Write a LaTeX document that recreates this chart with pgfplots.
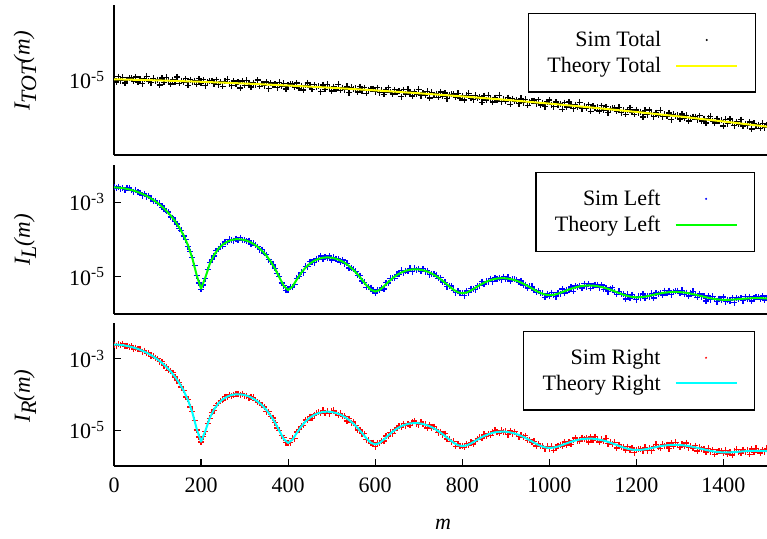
\documentclass[border=0pt]{standalone}
\usepackage{fontspec}
\setmainfont{Liberation Serif}
\usepackage{pgfplots}
\usepackage{pgfplotstable}
\pgfplotsset{compat=1.18}

\definecolor{lineyellow}{RGB}{255,255,0}
\definecolor{linegreen}{RGB}{0,255,0}
\definecolor{linecyan}{RGB}{0,255,255}
\definecolor{ptblue}{RGB}{0,0,255}
\definecolor{ptred}{RGB}{255,0,0}

\newcommand{\fs}{\fontsize{22bp}{26bp}\selectfont}
\newcommand{\ls}{\fontsize{23bp}{26bp}\selectfont}
\newcommand{\sub}[1]{\raisebox{-0.28em}{\fontsize{22bp}{22bp}\selectfont #1}}

% simulated points, one row every 5 m: total, left, right
\pgfplotstableread{
m T L R
0 10.50e-6 2605e-6 2505e-6
5 9.41e-6 2415e-6 2316e-6
10 11.13e-6 2642e-6 2543e-6
15 9.78e-6 2313e-6 2386e-6
20 10.82e-6 2419e-6 2635e-6
25 9.09e-6 2155e-6 2225e-6
30 10.13e-6 2351e-6 2306e-6
35 10.50e-6 2412e-6 2147e-6
40 10.61e-6 2097e-6 2268e-6
45 9.69e-6 1934e-6 1872e-6
50 10.97e-6 2069e-6 2049e-6
55 9.39e-6 1856e-6 1862e-6
60 10.16e-6 1816e-6 1830e-6
65 8.97e-6 1508e-6 1575e-6
70 10.38e-6 1672e-6 1687e-6
75 11.14e-6 1410e-6 1425e-6
80 9.70e-6 1477e-6 1436e-6
85 9.17e-6 1259e-6 1158e-6
90 10.56e-6 1078e-6 1159e-6
95 9.78e-6 1085e-6 1070e-6
100 10.15e-6 938e-6 995e-6
105 8.59e-6 943e-6 831e-6
110 10.62e-6 729e-6 821e-6
115 9.32e-6 683e-6 642e-6
120 10.83e-6 577e-6 601e-6
125 9.79e-6 545e-6 473e-6
130 8.88e-6 403e-6 456e-6
135 10.13e-6 388e-6 407e-6
140 9.49e-6 311e-6 308e-6
145 10.98e-6 262e-6 242e-6
150 9.07e-6 197e-6 220e-6
155 9.81e-6 175e-6 162e-6
160 9.28e-6 124.5e-6 131e-6
165 10.39e-6 99.8e-6 85.5e-6
170 8.49e-6 64.1e-6 73.9e-6
175 10.10e-6 47e-6 45.1e-6
180 9.46e-6 32.3e-6 33.9e-6
185 9.81e-6 19.8e-6 19e-6
190 8.80e-6 10.6e-6 10.1e-6
195 10.38e-6 6.74e-6 6.49e-6
200 9.10e-6 4.56e-6 4.70e-6
205 10.06e-6 6.06e-6 6.6e-6
210 8.44e-6 8.92e-6 9.22e-6
215 9.40e-6 15.5e-6 15.2e-6
220 9.74e-6 24.1e-6 21.4e-6
225 9.84e-6 29.4e-6 31.8e-6
230 8.97e-6 36.4e-6 35.2e-6
235 10.15e-6 49.9e-6 49.4e-6
240 8.68e-6 56.1e-6 57.0e-6
245 9.37e-6 66.3e-6 65.8e-6
250 8.27e-6 66.2e-6 69.1e-6
255 9.56e-6 85.9e-6 86.7e-6
260 10.25e-6 83.8e-6 84.7e-6
265 8.92e-6 100.4e-6 97.7e-6
270 8.42e-6 97.0e-6 89.2e-6
275 9.70e-6 93e-6 100e-6
280 8.96e-6 104.8e-6 103.5e-6
285 9.30e-6 100e-6 106e-6
290 7.86e-6 111.7e-6 98.5e-6
295 9.71e-6 94.5e-6 106.5e-6
300 8.51e-6 97.7e-6 91.9e-6
305 9.88e-6 89.7e-6 93.4e-6
310 8.93e-6 93.4e-6 81.1e-6
315 8.09e-6 75.1e-6 85.0e-6
320 9.22e-6 79.8e-6 83.6e-6
325 8.62e-6 69.3e-6 68.6e-6
330 9.97e-6 64.9e-6 59.8e-6
335 8.22e-6 53.1e-6 59.3e-6
340 8.88e-6 53.6e-6 49.6e-6
345 8.40e-6 42.2e-6 44.4e-6
350 9.39e-6 39.0e-6 33.4e-6
355 7.67e-6 28.5e-6 32.9e-6
360 9.11e-6 25.6e-6 24.6e-6
365 8.52e-6 21.1e-6 22.1e-6
370 8.83e-6 17.0e-6 16.3e-6
375 7.91e-6 12.1e-6 11.6e-6
380 9.33e-6 10.3e-6 9.9e-6
385 8.20e-6 6.84e-6 7.06e-6
390 9.05e-6 5.73e-6 6.24e-6
395 7.60e-6 4.32e-6 4.47e-6
400 8.45e-6 4.53e-6 4.44e-6
405 8.75e-6 5.33e-6 4.49e-6
410 8.83e-6 5.33e-6 5.98e-6
415 8.03e-6 6.19e-6 5.88e-6
420 9.10e-6 9.08e-6 8.96e-6
425 7.77e-6 10.3e-6 10.6e-6
430 8.39e-6 13.1e-6 12.9e-6
435 7.39e-6 12.8e-6 13.7e-6
440 8.54e-6 19.2e-6 19.4e-6
445 9.15e-6 18.8e-6 19.1e-6
450 7.95e-6 25.2e-6 24.2e-6
455 7.50e-6 24.8e-6 21.8e-6
460 8.64e-6 24.1e-6 26.9e-6
465 7.97e-6 30.0e-6 29.6e-6
470 8.26e-6 29.4e-6 32.1e-6
475 6.98e-6 36.2e-6 30.1e-6
480 8.61e-6 30.0e-6 35.8e-6
485 7.55e-6 33.5e-6 30.5e-6
490 8.75e-6 31.7e-6 33.7e-6
495 7.91e-6 36.0e-6 29.0e-6
500 7.16e-6 28.0e-6 33.9e-6
505 8.16e-6 33.4e-6 35.8e-6
510 7.62e-6 29.9e-6 29.5e-6
515 8.80e-6 29.9e-6 26.4e-6
520 7.26e-6 24.9e-6 29.5e-6
525 7.83e-6 28.2e-6 25.1e-6
530 7.40e-6 22.5e-6 24.3e-6
535 8.27e-6 23.1e-6 18.3e-6
540 6.75e-6 17.1e-6 21.1e-6
545 8.01e-6 17.3e-6 16.3e-6
550 7.48e-6 16.0e-6 17.1e-6
555 7.75e-6 14.1e-6 13.3e-6
560 6.93e-6 10.9e-6 10.2e-6
565 8.17e-6 10.8e-6 10.2e-6
570 7.17e-6 7.65e-6 8.02e-6
575 7.91e-6 7.11e-6 8.05e-6
580 6.63e-6 5.19e-6 5.46e-6
585 7.37e-6 5.33e-6 5.18e-6
590 7.63e-6 5.08e-6 4.28e-6
595 7.69e-6 4.03e-6 4.52e-6
600 7.00e-6 3.64e-6 3.46e-6
605 7.91e-6 4.43e-6 4.37e-6
610 6.75e-6 4.33e-6 4.45e-6
615 7.28e-6 5.05e-6 4.98e-6
620 6.42e-6 4.70e-6 5.03e-6
625 7.41e-6 6.87e-6 6.96e-6
630 7.93e-6 6.76e-6 6.87e-6
635 6.89e-6 9.13e-6 8.76e-6
640 6.49e-6 9.15e-6 8.05e-6
645 7.46e-6 9.08e-6 10.15e-6
650 6.88e-6 11.7e-6 11.5e-6
655 7.12e-6 11.7e-6 12.8e-6
660 6.01e-6 15.0e-6 12.4e-6
665 7.42e-6 12.8e-6 15.2e-6
670 6.49e-6 14.7e-6 13.4e-6
675 7.53e-6 14.3e-6 15.2e-6
680 6.78e-6 16.9e-6 13.6e-6
685 6.14e-6 13.6e-6 16.5e-6
690 6.98e-6 16.9e-6 18.0e-6
695 6.52e-6 15.6e-6 15.4e-6
700 7.53e-6 16.2e-6 14.3e-6
705 6.20e-6 14.0e-6 16.5e-6
710 6.69e-6 16.5e-6 14.7e-6
715 6.31e-6 13.7e-6 14.8e-6
720 7.05e-6 14.7e-6 11.6e-6
725 5.75e-6 11.4e-6 14.1e-6
730 6.82e-6 12.2e-6 11.5e-6
735 6.37e-6 11.8e-6 12.7e-6
740 6.59e-6 11.0e-6 10.4e-6
745 5.89e-6 9.07e-6 8.50e-6
750 6.94e-6 9.51e-6 9.00e-6
755 6.08e-6 7.17e-6 7.52e-6
760 6.70e-6 7.05e-6 7.99e-6
765 5.61e-6 5.46e-6 5.74e-6
770 6.23e-6 5.79e-6 5.62e-6
775 6.44e-6 5.65e-6 4.76e-6
780 6.49e-6 4.35e-6 4.88e-6
785 5.90e-6 3.75e-6 3.56e-6
790 6.67e-6 4.12e-6 4.06e-6
795 5.68e-6 3.62e-6 3.66e-6
800 6.13e-6 3.71e-6 3.69e-6
805 5.39e-6 3.11e-6 3.33e-6
810 6.22e-6 4.11e-6 4.17e-6
815 6.66e-6 3.76e-6 3.82e-6
820 5.78e-6 4.79e-6 4.60e-6
825 5.44e-6 4.65e-6 4.09e-6
830 6.25e-6 4.52e-6 5.05e-6
835 5.76e-6 5.75e-6 5.70e-6
840 5.96e-6 5.78e-6 6.32e-6
845 5.03e-6 7.38e-6 6.13e-6
850 6.20e-6 6.38e-6 7.62e-6
855 5.42e-6 7.46e-6 6.80e-6
860 6.28e-6 7.42e-6 7.89e-6
865 5.66e-6 8.88e-6 7.17e-6
870 5.11e-6 7.34e-6 8.87e-6
875 5.81e-6 9.28e-6 9.93e-6
880 5.42e-6 8.83e-6 8.69e-6
885 6.25e-6 9.35e-6 8.26e-6
890 5.14e-6 8.34e-6 9.86e-6
895 5.54e-6 10.1e-6 9.01e-6
900 5.23e-6 8.68e-6 9.36e-6
905 5.83e-6 9.60e-6 7.59e-6
910 4.75e-6 7.68e-6 9.52e-6
915 5.63e-6 8.45e-6 7.94e-6
920 5.25e-6 8.52e-6 9.13e-6
925 5.43e-6 8.25e-6 7.78e-6
930 4.85e-6 7.07e-6 6.62e-6
935 5.71e-6 7.71e-6 7.29e-6
940 5.00e-6 6.06e-6 6.35e-6
945 5.51e-6 6.19e-6 7.02e-6
950 4.61e-6 5.00e-6 5.25e-6
955 5.11e-6 5.51e-6 5.35e-6
960 5.28e-6 5.53e-6 4.65e-6
965 5.31e-6 4.37e-6 4.91e-6
970 4.82e-6 3.79e-6 3.61e-6
975 5.44e-6 4.19e-6 4.13e-6
980 4.64e-6 3.60e-6 3.62e-6
985 5.00e-6 3.57e-6 3.55e-6
990 4.40e-6 2.82e-6 3.02e-6
995 5.07e-6 3.53e-6 3.58e-6
1000 5.42e-6 3.01e-6 3.06e-6
1005 4.69e-6 3.74e-6 3.54e-6
1010 4.42e-6 3.27e-6 2.75e-6
1015 5.07e-6 2.91e-6 3.38e-6
1020 4.68e-6 3.73e-6 3.68e-6
1025 4.83e-6 3.54e-6 3.99e-6
1030 4.07e-6 4.66e-6 3.65e-6
1035 5.01e-6 3.69e-6 4.67e-6
1040 4.38e-6 4.41e-6 3.89e-6
1045 5.07e-6 4.28e-6 4.64e-6
1050 4.56e-6 5.34e-6 4.01e-6
1055 4.13e-6 4.08e-6 5.28e-6
1060 4.69e-6 5.61e-6 6.12e-6
1065 4.36e-6 5.26e-6 5.16e-6
1070 5.03e-6 5.75e-6 4.87e-6
1075 4.13e-6 4.97e-6 6.22e-6
1080 4.45e-6 6.56e-6 5.64e-6
1085 4.19e-6 5.45e-6 6.03e-6
1090 4.68e-6 6.42e-6 4.67e-6
1095 3.81e-6 4.90e-6 6.53e-6
1100 4.50e-6 5.79e-6 5.33e-6
1105 4.19e-6 6.05e-6 6.62e-6
1110 4.34e-6 6.06e-6 5.61e-6
1115 3.87e-6 5.14e-6 4.70e-6
1120 4.55e-6 6.05e-6 5.63e-6
1125 3.99e-6 4.61e-6 4.92e-6
1130 4.39e-6 5.03e-6 5.92e-6
1135 3.66e-6 3.96e-6 4.25e-6
1140 4.07e-6 4.77e-6 4.59e-6
1145 4.20e-6 5.05e-6 4.02e-6
1150 4.22e-6 3.90e-6 4.55e-6
1155 3.83e-6 3.39e-6 3.16e-6
1160 4.32e-6 4.02e-6 3.94e-6
1165 3.67e-6 3.40e-6 3.43e-6
1170 3.96e-6 3.43e-6 3.41e-6
1175 3.48e-6 2.53e-6 2.78e-6
1180 4.01e-6 3.40e-6 3.47e-6
1185 4.28e-6 2.71e-6 2.77e-6
1190 3.70e-6 3.33e-6 3.16e-6
1195 3.49e-6 2.82e-6 2.37e-6
1200 3.99e-6 2.41e-6 2.80e-6
1205 3.68e-6 2.98e-6 2.95e-6
1210 3.80e-6 2.72e-6 3.06e-6
1215 3.20e-6 3.44e-6 2.70e-6
1220 3.93e-6 2.64e-6 3.34e-6
1225 3.44e-6 3.06e-6 2.70e-6
1230 3.97e-6 2.90e-6 3.15e-6
1235 3.58e-6 3.57e-6 2.68e-6
1240 3.23e-6 2.70e-6 3.49e-6
1245 3.67e-6 3.66e-6 4.00e-6
1250 3.42e-6 3.42e-6 3.35e-6
1255 3.93e-6 3.72e-6 3.15e-6
1260 3.24e-6 3.23e-6 4.04e-6
1265 3.47e-6 4.26e-6 3.67e-6
1270 3.28e-6 3.58e-6 3.96e-6
1275 3.64e-6 4.24e-6 3.08e-6
1280 2.97e-6 3.27e-6 4.36e-6
1285 3.50e-6 3.91e-6 3.60e-6
1290 3.27e-6 4.16e-6 4.55e-6
1295 3.37e-6 4.21e-6 3.90e-6
1300 3.01e-6 3.64e-6 3.33e-6
1305 3.53e-6 4.35e-6 4.05e-6
1310 3.08e-6 3.39e-6 3.62e-6
1315 3.40e-6 3.76e-6 4.43e-6
1320 2.84e-6 3.03e-6 3.25e-6
1325 3.14e-6 3.73e-6 3.59e-6
1330 3.24e-6 4.04e-6 3.21e-6
1335 3.26e-6 3.18e-6 3.71e-6
1340 2.96e-6 2.82e-6 2.63e-6
1345 3.33e-6 3.42e-6 3.36e-6
1350 2.83e-6 2.95e-6 2.97e-6
1355 3.05e-6 3.03e-6 3.01e-6
1360 2.68e-6 2.25e-6 2.47e-6
1365 3.08e-6 3.06e-6 3.11e-6
1370 3.28e-6 2.44e-6 2.49e-6
1375 2.84e-6 2.99e-6 2.84e-6
1380 2.66e-6 2.52e-6 2.12e-6
1385 3.06e-6 2.13e-6 2.48e-6
1390 2.81e-6 2.59e-6 2.57e-6
1395 2.89e-6 2.32e-6 2.61e-6
1400 2.44e-6 2.88e-6 2.26e-6
1405 3.00e-6 2.16e-6 2.74e-6
1410 2.62e-6 2.45e-6 2.16e-6
1415 3.02e-6 2.27e-6 2.46e-6
1420 2.72e-6 2.72e-6 2.04e-6
1425 2.45e-6 2.01e-6 2.60e-6
1430 2.77e-6 2.68e-6 2.93e-6
1435 2.58e-6 2.46e-6 2.41e-6
1440 2.97e-6 2.64e-6 2.24e-6
1445 2.44e-6 2.26e-6 2.83e-6
1450 2.62e-6 2.95e-6 2.54e-6
1455 2.47e-6 2.46e-6 2.72e-6
1460 2.75e-6 2.90e-6 2.11e-6
1465 2.23e-6 2.23e-6 2.98e-6
1470 2.64e-6 2.67e-6 2.46e-6
1475 2.46e-6 2.83e-6 3.10e-6
1480 2.53e-6 2.88e-6 2.67e-6
1485 2.26e-6 2.50e-6 2.29e-6
1490 2.65e-6 3.02e-6 2.81e-6
1495 2.32e-6 2.37e-6 2.52e-6
1500 2.55e-6 2.66e-6 3.13e-6
}\simdata

% theory curve for the left and right detectors
\pgfplotstableread{
m I
0 2505e-6
10 2469e-6
20 2395e-6
30 2283e-6
40 2140e-6
50 1970e-6
60 1780e-6
70 1577e-6
80 1368e-6
90 1159e-6
100 957e-6
110 767e-6
120 595e-6
130 443e-6
140 314.5e-6
150 209.6e-6
160 128.4e-6
170 69.7e-6
180 31.4e-6
190 10.9e-6
200 4.8e-6
210 9.69e-6
220 22.1e-6
230 38.7e-6
240 56.7e-6
250 73.5e-6
260 87.3e-6
270 97.0e-6
280 101.7e-6
290 101.5e-6
300 96.7e-6
310 88.1e-6
320 76.7e-6
330 63.6e-6
340 50.1e-6
350 37.1e-6
360 25.6e-6
370 16.3e-6
380 9.6e-6
390 5.67e-6
400 4.4e-6
410 5.49e-6
420 8.45e-6
430 12.7e-6
440 17.6e-6
450 22.5e-6
460 26.9e-6
470 30.3e-6
480 32.4e-6
490 33.2e-6
500 32.4e-6
510 30.4e-6
520 27.4e-6
530 23.6e-6
540 19.4e-6
550 15.3e-6
560 11.45e-6
570 8.27e-6
580 5.9e-6
590 4.48e-6
600 4.0e-6
610 4.40e-6
620 5.53e-6
630 7.19e-6
640 9.15e-6
650 11.17e-6
660 13.0e-6
670 14.5e-6
680 15.5e-6
690 15.9e-6
700 15.7e-6
710 14.95e-6
720 13.7e-6
730 12.2e-6
740 10.4e-6
750 8.61e-6
760 6.95e-6
770 5.54e-6
780 4.48e-6
790 3.83e-6
800 3.6e-6
810 3.77e-6
820 4.28e-6
830 5.05e-6
840 5.96e-6
850 6.90e-6
860 7.77e-6
870 8.49e-6
880 8.96e-6
890 9.17e-6
900 9.09e-6
910 8.73e-6
920 8.15e-6
930 7.40e-6
940 6.55e-6
950 5.68e-6
960 4.87e-6
970 4.17e-6
980 3.65e-6
990 3.32e-6
1000 3.2e-6
1010 3.27e-6
1020 3.52e-6
1030 3.88e-6
1040 4.32e-6
1050 4.77e-6
1060 5.19e-6
1070 5.53e-6
1080 5.75e-6
1090 5.84e-6
1100 5.79e-6
1110 5.61e-6
1120 5.31e-6
1130 4.93e-6
1140 4.50e-6
1150 4.06e-6
1160 3.65e-6
1170 3.30e-6
1180 3.04e-6
1190 2.87e-6
1200 2.8e-6
1210 2.83e-6
1220 2.93e-6
1230 3.09e-6
1240 3.29e-6
1250 3.49e-6
1260 3.67e-6
1270 3.81e-6
1280 3.89e-6
1290 3.92e-6
1300 3.87e-6
1310 3.77e-6
1320 3.61e-6
1330 3.42e-6
1340 3.21e-6
1350 3.01e-6
1360 2.81e-6
1370 2.65e-6
1380 2.52e-6
1390 2.44e-6
1400 2.4e-6
1410 2.40e-6
1420 2.43e-6
1430 2.48e-6
1440 2.54e-6
1450 2.59e-6
1460 2.64e-6
1470 2.67e-6
1480 2.67e-6
1490 2.65e-6
1500 2.61e-6
}\theoryLR

% theory curve for the total
\pgfplotstableread{
m I
0 10.23e-6
100 9.89e-6
200 9.47e-6
300 8.98e-6
400 8.45e-6
500 7.88e-6
600 7.28e-6
700 6.66e-6
800 6.05e-6
900 5.44e-6
1000 4.85e-6
1100 4.28e-6
1200 3.75e-6
1300 3.26e-6
1400 2.80e-6
1500 2.39e-6
}\theoryTot

\pgfplotsset{
  every axis/.append style={
    scale only axis, width=653bp, anchor=south west,
    xmin=0, xmax=1500,
    axis lines=left, axis line style={-, line width=1.3bp},
    tick align=inside, major tick length=7bp,
    tick style={black, line width=1.2bp},
    yminorticks=false,
    clip marker paths=true,
    tick label style={font=\fs},
    yticklabel style={xshift=-6bp},
    legend cell align=right, legend plot pos=right,
    legend style={anchor=north east, draw=black, line width=1.3bp,
      font=\fs, inner xsep=17bp, inner ysep=16bp, row sep=5bp, column sep=12bp},
  },
}

\begin{document}
\begin{tikzpicture}
\useasboundingbox (0,0) rectangle (767bp,-539bp);

\begin{axis}[ymode=log, at={(114bp,-155bp)}, height=150bp,
  ymin=1e-6, ymax=1e-4, xtick=\empty,
  ytick={1e-5}, yticklabels={10\textsuperscript{-5}},
  legend style={at={(0.983,0.947)}}]
\addplot[only marks, mark=+, mark size=3bp, mark options={line width=1.3bp}, color=black,
  legend image code/.code={\path[draw=none, fill=none] (0bp,0bp) -- (61bp,0bp);
    \fill[black, draw=none] (30.5bp,0bp) circle (1.1bp);}]
  table[x=m, y=T] {\simdata};
\addlegendentry{Sim Total}
\addplot[no marks, line width=2bp, line join=round, color=lineyellow,
  legend image code/.code={\draw[lineyellow, line width=2bp] (0bp,0bp) -- (61bp,0bp);}]
  table[x=m, y=I] {\theoryTot};
\addlegendentry{Theory Total}
\end{axis}

\begin{axis}[ymode=log, at={(114bp,-314bp)}, height=149bp,
  ymin=1e-6, ymax=1e-2, xtick=\empty,
  ytick={1e-5,1e-3}, yticklabels={10\textsuperscript{-5},10\textsuperscript{-3}},
  legend style={at={(0.982,0.955)}}]
\addplot[only marks, mark=+, mark size=3bp, mark options={line width=1.3bp}, color=ptblue,
  legend image code/.code={\path[draw=none, fill=none] (0bp,0bp) -- (61bp,0bp);
    \fill[ptblue, draw=none] (30.5bp,0bp) circle (1.1bp);}]
  table[x=m, y=L] {\simdata};
\addlegendentry{Sim Left}
\addplot[no marks, line width=2bp, line join=round, color=linegreen,
  legend image code/.code={\draw[linegreen, line width=2bp] (0bp,0bp) -- (61bp,0bp);}]
  table[x=m, y=I] {\theoryLR};
\addlegendentry{Theory Left}
\end{axis}

\begin{axis}[ymode=log, at={(114bp,-466bp)}, height=143bp,
  ymin=1e-6, ymax=1e-2,
  xtick={0,200,400,600,800,1000,1200,1400},
  xticklabels={0,200,400,600,800,1000,1200,1400},
  xticklabel style={yshift=-8bp},
  ytick={1e-5,1e-3}, yticklabels={10\textsuperscript{-5},10\textsuperscript{-3}},
  legend style={at={(0.982,0.946)}}]
\addplot[only marks, mark=+, mark size=3bp, mark options={line width=1.3bp}, color=ptred,
  legend image code/.code={\path[draw=none, fill=none] (0bp,0bp) -- (61bp,0bp);
    \fill[ptred, draw=none] (30.5bp,0bp) circle (1.1bp);}]
  table[x=m, y=R] {\simdata};
\addlegendentry{Sim Right}
\addplot[no marks, line width=2bp, line join=round, color=linecyan,
  legend image code/.code={\draw[linecyan, line width=2bp] (0bp,0bp) -- (61bp,0bp);}]
  table[x=m, y=I] {\theoryLR};
\addlegendentry{Theory Right}
\end{axis}

\node[rotate=90, font=\ls\itshape] at (25bp,-71bp) {I\sub{TOT}(m)};
\node[rotate=90, font=\ls\itshape] at (25bp,-240bp) {I\sub{L}(m)};
\node[rotate=90, font=\ls\itshape] at (25bp,-396bp) {I\sub{R}(m)};
\node[font=\fs\itshape] at (443bp,-524bp) {m};
\end{tikzpicture}
\end{document}
